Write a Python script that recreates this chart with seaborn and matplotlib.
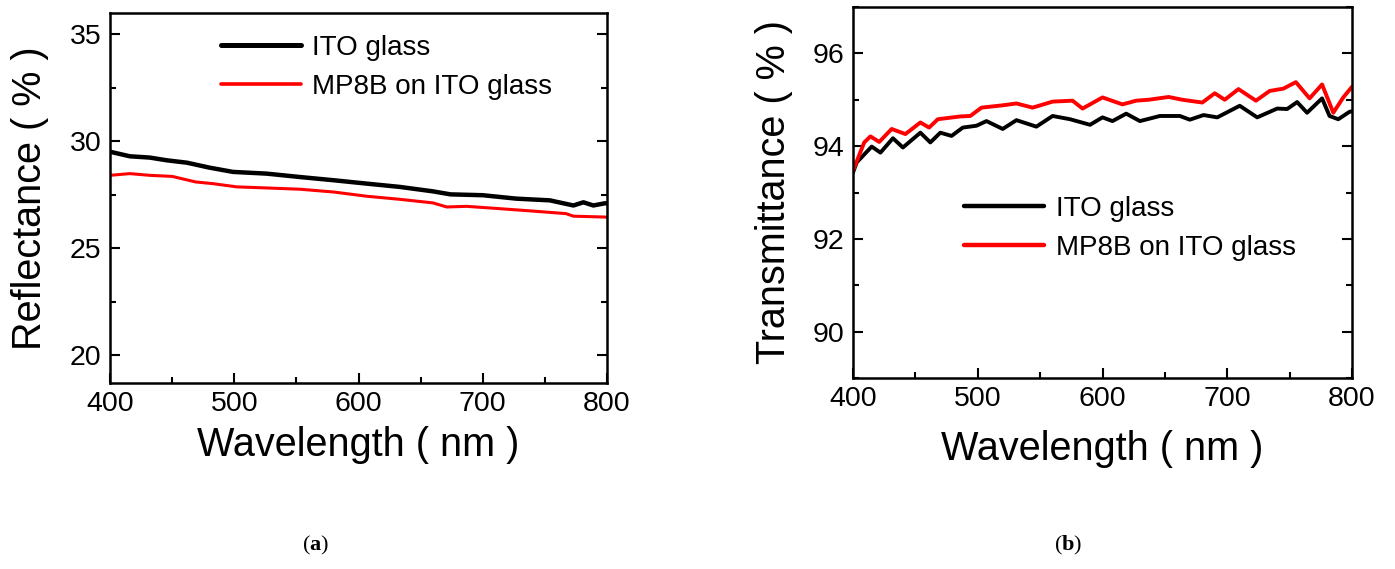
import numpy as np
import pandas as pd
import matplotlib
matplotlib.use("Agg")
import matplotlib.pyplot as plt
import seaborn as sns
from matplotlib.ticker import MultipleLocator

# ---------------- data ----------------
refl_wl_ito = [401, 416, 432, 446, 462, 480, 499, 526, 553, 580, 607, 633, 660, 674,
               700, 727, 754, 773, 781, 789, 798, 800]
refl_ito = [29.5, 29.3, 29.24, 29.11, 29.0, 28.77, 28.57, 28.49, 28.33, 28.18, 28.02,
            27.87, 27.66, 27.52, 27.48, 27.32, 27.24, 27.0, 27.15, 27.0, 27.1, 27.1]
refl_wl_mp = [400, 416, 432, 450, 469, 483, 502, 526, 553, 580, 607, 633, 660, 671,
              687, 714, 740, 767, 773, 798, 800]
refl_mp = [28.41, 28.49, 28.41, 28.36, 28.1, 28.02, 27.87, 27.82, 27.76, 27.63, 27.43,
           27.29, 27.12, 26.93, 26.96, 26.85, 26.74, 26.62, 26.5, 26.46, 26.45]

trans_wl_ito = [400, 403, 415, 422, 432, 440, 454, 462, 470, 479, 488, 499, 507, 520,
                531, 547, 560, 574, 590, 600, 608, 619, 630, 646, 662, 670, 681, 692,
                710, 724, 740, 748, 756, 764, 776, 782, 789, 798, 800]
trans_ito = [93.43, 93.65, 93.99, 93.86, 94.17, 93.97, 94.29, 94.08, 94.29, 94.22,
             94.40, 94.44, 94.54, 94.37, 94.56, 94.42, 94.65, 94.58, 94.46, 94.62,
             94.54, 94.70, 94.54, 94.65, 94.65, 94.57, 94.67, 94.62, 94.87, 94.62,
             94.81, 94.80, 94.95, 94.72, 95.03, 94.65, 94.58, 94.74, 94.75]
trans_wl_mp = [400, 409, 414, 421, 431, 442, 454, 461, 468, 486, 494, 503, 520, 531,
               544, 560, 576, 584, 600, 616, 627, 637, 653, 664, 680, 690, 698, 709,
               723, 734, 745, 755, 766, 776, 785, 793, 800]
trans_mp = [93.47, 94.08, 94.21, 94.09, 94.37, 94.26, 94.51, 94.40, 94.58, 94.64,
            94.65, 94.83, 94.88, 94.92, 94.83, 94.96, 94.98, 94.81, 95.05, 94.90,
            94.98, 95.0, 95.06, 95.0, 94.94, 95.14, 95.0, 95.23, 94.98, 95.19, 95.24,
            95.38, 95.03, 95.33, 94.72, 95.05, 95.28]

series_names = ["ITO glass", "MP8B on ITO glass"]
xticks = [400, 500, 600, 700, 800]
refl_yticks = [20, 25, 30, 35]
trans_yticks = [90, 92, 94, 96]

# ---------------- style ----------------
sns.set_theme(style="ticks")
plt.rcParams["font.family"] = ["Liberation Sans", "DejaVu Sans"]
plt.rcParams["text.color"] = "black"
plt.rcParams["axes.labelcolor"] = "black"
plt.rcParams["xtick.color"] = "black"
plt.rcParams["ytick.color"] = "black"
plt.rcParams["mathtext.fontset"] = "custom"
plt.rcParams["mathtext.rm"] = "Liberation Serif"
plt.rcParams["mathtext.bf"] = "Liberation Serif:bold"

fig = plt.figure(figsize=(13.95, 5.69), dpi=100)
ax1 = fig.add_axes([110 / 1395, 1 - 383 / 569, 497 / 1395, 370 / 569])
ax2 = fig.add_axes([853 / 1395, 1 - 378 / 569, 499 / 1395, 371 / 569])

refl_df = pd.concat([
    pd.DataFrame({"wl": refl_wl_ito, "val": refl_ito, "s": series_names[0]}),
    pd.DataFrame({"wl": refl_wl_mp, "val": refl_mp, "s": series_names[1]}),
])
trans_df = pd.concat([
    pd.DataFrame({"wl": trans_wl_ito, "val": trans_ito, "s": series_names[0]}),
    pd.DataFrame({"wl": trans_wl_mp, "val": trans_mp, "s": series_names[1]}),
])
palette = {series_names[0]: "#000000", series_names[1]: "#ff0000"}

sns.lineplot(data=refl_df, x="wl", y="val", hue="s", size="s",
             sizes={series_names[0]: 3.2, series_names[1]: 2.2},
             palette=palette, ax=ax1, estimator=None, sort=False)
sns.lineplot(data=trans_df, x="wl", y="val", hue="s", size="s",
             sizes={series_names[0]: 2.8, series_names[1]: 2.8},
             palette=palette, ax=ax2, estimator=None, sort=False)

for ax, yt, ylim, ylab, ymin, xpad, ypad in [
    (ax1, refl_yticks, (18.7, 36.0), "Reflectance ( % )", 2.5, 6, 15),
    (ax2, trans_yticks, (89.0, 97.0), "Transmittance ( % )", 1.0, 13, 14),
]:
    ax.set_xlim(400, 800)
    ax.set_ylim(*ylim)
    ax.set_xticks(xticks)
    ax.set_yticks(yt)
    ax.xaxis.set_minor_locator(MultipleLocator(50))
    ax.yaxis.set_minor_locator(MultipleLocator(ymin))
    ax.tick_params(which="both", direction="in", top=False, right=True,
                   width=1.5, colors="black")
    ax.tick_params(which="major", length=7, labelsize=20.5, pad=6)
    ax.tick_params(which="minor", length=4)
    ax.tick_params(axis="y", which="both", labelright=False)
    for sp in ax.spines.values():
        sp.set_visible(True)
        sp.set_linewidth(1.8)
        sp.set_color("black")
    ax.set_xlabel("Wavelength ( nm )", fontsize=28.5, labelpad=xpad)
    ax.set_ylabel(ylab, fontsize=28.5, labelpad=ypad)
    ax.grid(False)

leg1 = ax1.legend(loc="upper left", bbox_to_anchor=(0.2, 0.97), frameon=False,
                  fontsize=20, handlelength=2.9, handletextpad=0.4,
                  labelspacing=0.45, borderaxespad=0)
leg2 = ax2.legend(loc="upper left", bbox_to_anchor=(0.2, 0.52), frameon=False,
                  fontsize=20, handlelength=2.9, handletextpad=0.4,
                  labelspacing=0.45, borderaxespad=0)
for leg, widths in [(leg1, [3.6, 2.6]), (leg2, [3.2, 3.2])]:
    for h, w in zip(leg.get_lines(), widths):
        h.set_linewidth(w)

fig.text(316 / 1395, 1 - 545 / 569, r"($\mathbf{a}$)", ha="center", va="center",
         fontsize=16, family="Liberation Serif")
fig.text(1068 / 1395, 1 - 545 / 569, r"($\mathbf{b}$)", ha="center", va="center",
         fontsize=16, family="Liberation Serif")

fig.savefig("out.png", dpi=100)
